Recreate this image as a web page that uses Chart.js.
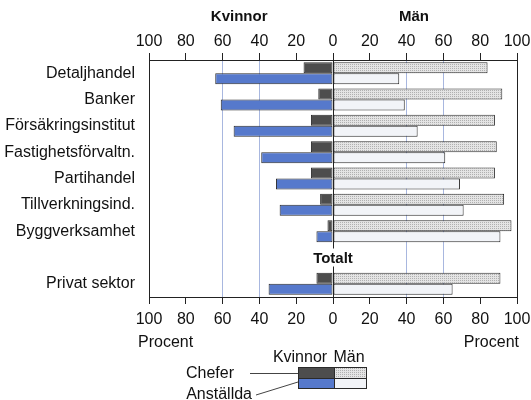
<!DOCTYPE html>
<html>
<head>
<meta charset="utf-8">
<script src="https://cdn.jsdelivr.net/npm/chart.js@4.4.1/dist/chart.umd.min.js"></script>
<style>
  html, body { margin: 0; padding: 0; background: #ffffff; }
  #c { display: block; }
</style>
</head>
<body>
<canvas id="c" width="531" height="400"></canvas>
<script>
// ---- Data ----
const categories = ['Detaljhandel', 'Banker', 'Försäkringsinstitut', 'Fastighetsförvaltn.',
  'Partihandel', 'Tillverkningsind.', 'Byggverksamhet', '', 'Privat sektor'];
const womenManagers  = [16, 8, 12, 12, 12, 7, 3, null, 9];   // Kvinnor, Chefer
const womenEmployees = [64, 61, 54, 39, 31, 29, 9, null, 35]; // Kvinnor, Anställda
const menManagers    = [84, 92, 88, 89, 88, 93, 97, null, 91]; // Män, Chefer
const menEmployees   = [36, 39, 46, 61, 69, 71, 91, null, 65]; // Män, Anställda
const sideTitles = ['Kvinnor', 'Män'];
const groupTitle = 'Totalt';
const axisUnit = 'Procent';
const legendRows = ['Chefer', 'Anställda'];

// ---- Styles ----
const FONT = '"Liberation Sans", Arial, Helvetica, sans-serif';
Chart.defaults.font.family = FONT;
Chart.defaults.color = '#111';

function dotPattern() {
  const p = document.createElement('canvas');
  p.width = 2; p.height = 2;
  const g = p.getContext('2d');
  g.fillStyle = '#e4e4e4'; g.fillRect(0, 0, 2, 2);
  g.fillStyle = '#b0b0b0'; g.fillRect(0, 0, 1, 1);
  return g.createPattern(p, 'repeat');
}
const ctx = document.getElementById('c').getContext('2d');
const C_WOMEN_MGR = '#4d4d4d';
const C_WOMEN_EMP = '#5679cc';
const C_MEN_MGR = dotPattern();
const C_MEN_EMP = '#f2f4f8';
const EDGE = '#2a2a2a';

const neg = a => a.map(v => v == null ? null : -v);

function gridColor(c) {
  const v = c.tick ? Math.abs(c.tick.value) : -1;
  if (v === 0 || v === 100) return '#222';
  if (v === 40 || v === 60) return '#a8b7df';
  return 'rgba(0,0,0,0)';
}

const barCommon = { borderWidth: 1, borderColor: EDGE, borderSkipped: false,
  categoryPercentage: 0.835, barPercentage: 1.0 };

function fixH(h) {
  return function (s) { s.height = h; s.paddingLeft = 0; s.paddingRight = 0; };
}

const overlay = {
  id: 'overlay',
  afterDraw(chart) {
    const g = chart.ctx;
    const xs = chart.scales.x, ys = chart.scales.y;
    g.save();
    g.fillStyle = '#111';
    g.textBaseline = 'middle';
    // Side titles
    g.font = 'bold 15px ' + FONT;
    g.textAlign = 'center';
    g.fillText(sideTitles[0], xs.getPixelForValue(-51), 17);
    g.fillText(sideTitles[1], xs.getPixelForValue(44), 17);
    // Totalt
    const tx = xs.getPixelForValue(0), ty = ys.getPixelForValue(7);
    const tw = g.measureText(groupTitle).width;
    g.fillStyle = '#fff';
    g.fillRect(tx - tw / 2 - 2, ty - 9, tw + 4, 18);
    g.fillStyle = '#111';
    g.fillText(groupTitle, tx, ty + 1);
    // Procent
    g.font = '16px ' + FONT;
    g.textAlign = 'left';
    g.fillText(axisUnit, 138, 343);
    g.textAlign = 'right';
    g.fillText(axisUnit, 519, 343);
    // Legend
    const bx0 = 298, bx1 = 334, bx2 = 367, by0 = 367, by1 = 378, by2 = 389;
    g.font = '16px ' + FONT;
    g.textAlign = 'center';
    g.fillText(sideTitles[0], 300, 358);
    g.fillText(sideTitles[1], 349, 358);
    g.fillStyle = C_WOMEN_MGR; g.fillRect(bx0, by0, bx1 - bx0, by1 - by0);
    g.fillStyle = C_MEN_MGR;   g.fillRect(bx1, by0, bx2 - bx1, by1 - by0);
    g.fillStyle = C_WOMEN_EMP; g.fillRect(bx0, by1, bx1 - bx0, by2 - by1);
    g.fillStyle = C_MEN_EMP;   g.fillRect(bx1, by1, bx2 - bx1, by2 - by1);
    g.strokeStyle = EDGE; g.lineWidth = 1;
    g.strokeRect(bx0 + 0.5, by0 + 0.5, bx2 - bx0 - 1, by2 - by0 - 1);
    g.beginPath();
    g.moveTo(bx0, by1 + 0.5); g.lineTo(bx2, by1 + 0.5);
    g.moveTo(bx1 + 0.5, by0); g.lineTo(bx1 + 0.5, by2);
    g.stroke();
    // leader lines
    g.strokeStyle = '#444';
    g.beginPath();
    g.moveTo(250, 373.5); g.lineTo(bx0, 373.5);
    g.moveTo(256, 395); g.lineTo(bx0, 382);
    g.stroke();
    g.fillStyle = '#111';
    g.textAlign = 'right';
    g.fillText(legendRows[0], 234, 374);
    g.fillText(legendRows[1], 252, 395);
    g.restore();
  }
};

new Chart(ctx, {
  type: 'bar',
  data: {
    labels: categories,
    datasets: [
      Object.assign({ label: 'Kvinnor Chefer', data: neg(womenManagers), stack: 'chefer', backgroundColor: C_WOMEN_MGR }, barCommon),
      Object.assign({ label: 'Kvinnor Anställda', data: neg(womenEmployees), stack: 'anst', backgroundColor: C_WOMEN_EMP }, barCommon),
      Object.assign({ label: 'Män Chefer', data: menManagers, stack: 'chefer', backgroundColor: C_MEN_MGR }, barCommon),
      Object.assign({ label: 'Män Anställda', data: menEmployees, stack: 'anst', backgroundColor: C_MEN_EMP }, barCommon)
    ]
  },
  options: {
    indexAxis: 'y',
    responsive: false,
    animation: false,
    layout: { padding: { left: 0, right: 14, top: 0, bottom: 0 } },
    plugins: { legend: { display: false }, tooltip: { enabled: false } },
    scales: {
      y: {
        position: 'left',
        grid: { display: false, drawTicks: false },
        border: { display: false },
        ticks: { font: { size: 16 }, color: '#111', padding: 14, autoSkip: false },
        afterFit(s) { s.width = 149; s.paddingTop = 0; s.paddingBottom = 0; }
      },
      x: {
        type: 'linear', position: 'bottom', min: -100, max: 100, stacked: true,
        grid: { color: gridColor, tickColor: '#222', tickLength: 7, lineWidth: 1 },
        border: { display: true, color: '#222', width: 1 },
        ticks: { stepSize: 20, font: { size: 16 }, color: '#111', padding: 6, maxRotation: 0,
          callback: v => Math.abs(v) },
        afterFit: fixH(103)
      },
      x2: {
        type: 'linear', position: 'top', min: -100, max: 100,
        grid: { drawOnChartArea: false, tickColor: '#222', tickLength: 7 },
        border: { display: true, color: '#222', width: 1 },
        ticks: { stepSize: 20, font: { size: 16 }, color: '#111', padding: 2, maxRotation: 0,
          callback: v => Math.abs(v) },
        afterFit: fixH(60)
      }
    }
  },
  plugins: [overlay]
});
</script>
</body>
</html>
